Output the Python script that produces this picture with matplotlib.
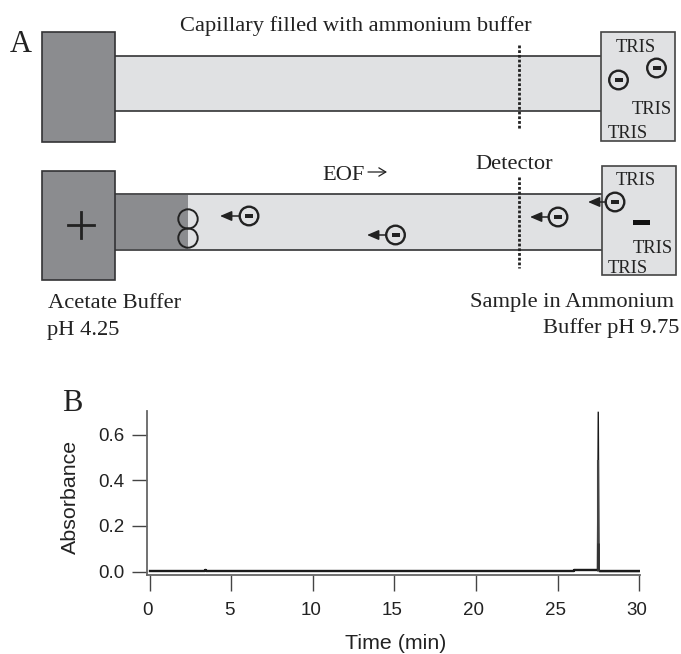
import matplotlib
matplotlib.use('Agg')
import matplotlib.pyplot as plt
from matplotlib.patches import Rectangle, Circle
from matplotlib.transforms import ScaledTranslation

# chromatogram
time_min = [0.0, 3.4, 3.4, 3.45, 3.45, 15, 26, 26, 27.45, 27.5, 27.55, 27.6, 30]
absorbance = [0.003, 0.003, 0.008, 0.008, 0.003, 0.003, 0.003, 0.009, 0.009, 0.70, 0.01, 0.001, 0.001]
peak_thick_t = [27.5, 27.5]
peak_thick_a = [0.003, 0.125]
peak_mid_a = [0.003, 0.49]
xticks = [0, 5, 10, 15, 20, 25, 30]
yticks = [0.0, 0.2, 0.4, 0.6]

# schematic parts, in pixels of the figure
DARK = '#8b8c8f'
LIGHT = '#e0e1e3'
EDGE = '#333335'
ions = [(656.5, 68), (618.5, 80), (249, 216), (395.5, 235), (558, 217), (615, 202)]
arrows = [(240, 220, 216), (386, 367, 235), (549, 530, 217), (606, 588, 202)]
tris_x = [616, 632, 608, 616, 633, 608]
tris_y = [52, 114, 138, 185, 253, 273]
labels = [(180, 31, 'Capillary filled with ammonium buffer'),
          (322, 180, 'EOF'),
          (475, 169, 'Detector'),
          (48, 308, 'Acetate Buffer'),
          (47, 335, 'pH 4.25'),
          (470, 307, 'Sample in Ammonium'),
          (543, 333, 'Buffer pH 9.75')]

W, H = 681, 654
fig = plt.figure(figsize=(W / 100, H / 100), dpi=100)

ax = fig.add_axes([147 / W, 1 - 574.5 / H, 493 / W, 163.5 / H])
ax.plot(time_min, absorbance, color='#1a1a1a', lw=1.0, solid_joinstyle='miter')
ax.plot(time_min[:9], absorbance[:9], color='#1a1a1a', lw=1.7)
ax.plot(time_min[-2:], absorbance[-2:], color='#1a1a1a', lw=1.7)
ax.plot(peak_thick_t, peak_mid_a, color='#444444', lw=1.5, solid_capstyle='butt')
ax.plot(peak_thick_t, peak_thick_a, color='#333333', lw=2.0, solid_capstyle='butt')
ax.set_xlim(-0.18, 30.06)
ax.set_ylim(-0.0122, 0.703)
ax.set_xticks(xticks)
ax.set_yticks(yticks)
ax.set_yticklabels(['0.0', '0.2', '0.4', '0.6'])
for s in ['top', 'right']:
    ax.spines[s].set_visible(False)
for s in ['left', 'bottom']:
    ax.spines[s].set_color('#666666')
    ax.spines[s].set_linewidth(1.3)
ax.tick_params(axis='x', length=11.5, width=1.0, color='#444444', pad=8,
               labelsize=13.5, labelcolor='#222222')
ax.tick_params(axis='y', length=11, width=1.0, color='#444444', pad=5.5,
               labelsize=13.5, labelcolor='#222222')
# x labels sit a little left of their ticks in the original
nudge = ScaledTranslation(-2 / 100, 0, fig.dpi_scale_trans)
for t in ax.get_xticklabels():
    t.set_family('Liberation Sans')
    t.set_transform(t.get_transform() + nudge)
for t in ax.get_yticklabels():
    t.set_family('Liberation Sans')
ax.set_xlabel('Time (min)', family='Liberation Sans', fontsize=15.4, color='#222222')
ax.xaxis.set_label_coords((396 - 147) / 493, -(649 - 574.5) / 163.5)
ax.xaxis.label.set_va('baseline')
ax.set_ylabel('Absorbance', family='Liberation Sans', fontsize=15.4, color='#222222')
ax.yaxis.set_label_coords((80 - 147) / 493, (574.5 - 497) / 163.5)

# overlay in pixel coordinates for the drawing above the plot
sk = fig.add_axes([0, 0, 1, 1])
sk.set_xlim(0, W)
sk.set_ylim(H, 0)
sk.axis('off')
sk.patch.set_alpha(0)

def box(x0, y0, x1, y1, fc, ec=EDGE, lw=1.2, z=2):
    sk.add_patch(Rectangle((x0, y0), x1 - x0, y1 - y0, fc=fc, ec=ec, lw=lw, zorder=z))

# capillaries first, the vials go on top of them
box(114, 56, 602, 111, LIGHT, z=1)
box(114, 194, 603, 249.5, LIGHT, z=1)
box(115, 194.5, 188, 249, DARK, ec='none', lw=0, z=1.5)
box(41.5, 32, 114.5, 142, DARK)
box(601, 32, 675, 141, LIGHT, ec='#444444')
box(42, 171, 115, 280, DARK)
box(602, 165.5, 676, 275, LIGHT, ec='#444444')

sk.plot([519, 519], [45, 130], color='#222222', lw=2, ls=(0, (1, 0.7)), zorder=3)
sk.plot([519, 519], [177, 268], color='#222222', lw=2, ls=(0, (1, 0.7)), zorder=3)

sk.plot([68, 94], [225, 225], color='#222222', lw=2, zorder=4)
sk.plot([81, 81], [212, 238], color='#222222', lw=2, zorder=4)
sk.add_patch(Rectangle((633, 220), 17, 5, fc='#111111', ec='none', zorder=4))

for cy in [219, 238]:
    sk.add_patch(Circle((188, cy), 9.7, fc='none', ec='#222222', lw=1.4, zorder=4))

for cx, cy in ions:
    sk.add_patch(Circle((cx, cy), 9.3, fc='none', ec='#222222', lw=1.7, zorder=5))
    sk.add_patch(Rectangle((cx - 4, cy - 1.7), 8, 3.4, fc='#222222', ec='none', zorder=5))

for x0, x1, y in arrows:
    sk.annotate('', xy=(x1, y), xytext=(x0, y), zorder=5,
                arrowprops=dict(arrowstyle='-|>,head_length=0.7,head_width=0.3',
                                color='#222222', lw=1.1, shrinkA=0, shrinkB=0))

# open arrow after EOF
sk.annotate('', xy=(387, 172), xytext=(368, 172),
            arrowprops=dict(arrowstyle='->,head_length=0.5,head_width=0.3',
                            color='#222222', lw=0.9, shrinkA=0, shrinkB=0))

for x, y in zip(tris_x, tris_y):
    sk.text(x, y, 'TRIS', family='Liberation Serif', fontsize=13.4, color='#222222',
            va='baseline', zorder=6)
for x, y, s in labels:
    sk.text(x, y, s, family='Liberation Serif', fontsize=16.2, color='#222222', va='baseline')
sk.text(10, 52, 'A', family='Liberation Serif', fontsize=22, color='#222222', va='baseline')
sk.text(62, 411, 'B', family='Liberation Serif', fontsize=22, color='#222222', va='baseline')

plt.savefig('out.png', dpi=100)
